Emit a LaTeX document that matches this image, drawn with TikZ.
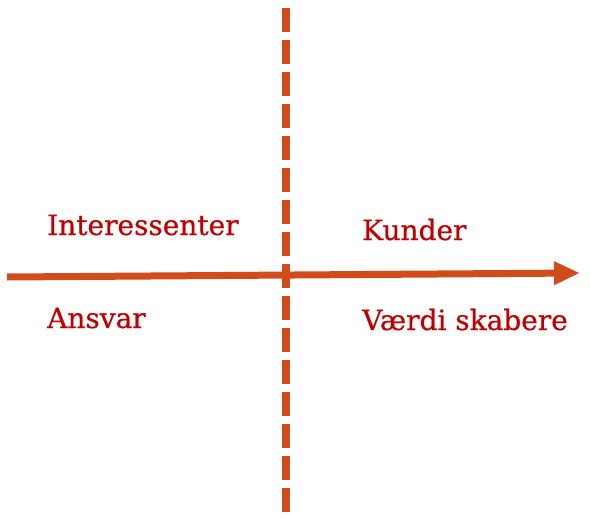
\documentclass[tikz,border=0pt]{standalone}
\usepackage{fontspec}
\setmainfont{DejaVu Serif}
\newfontfamily\slabfont[FakeBold=0.6]{DejaVu Serif}
\usetikzlibrary{arrows.meta}

\definecolor{axisorange}{HTML}{D24B1A}
\definecolor{labelred}{HTML}{C00000}

\tikzset{
    quadlabel/.style={anchor=base west, inner sep=0pt, text=labelred, font=\slabfont\fontsize{28}{34}\selectfont}
}

\begin{document}
\begin{tikzpicture}[x=1pt, y=-1pt]
    \useasboundingbox (0,0) rectangle (590,520);

    % axis
    \coordinate (left) at (7,277);
    \coordinate (right) at (580,273);
    \draw[-{Triangle[length=26pt, width=22pt]}, line width=7pt, axisorange]
        (left) --
        (right);

    % divider
    \coordinate (top) at (286,8);
    \coordinate (bottom) at (286,512);
    \draw[line width=8pt, axisorange, dash pattern=on 24pt off 8pt]
        (top) --
        (bottom);

    % labels
    \node[quadlabel] (interessenter) at (47,235) {Interessenter};
    \node[quadlabel] (ansvar) at (47,328) {Ansvar};
    \node[quadlabel] (kunder) at (362,240) {Kunder};
    \node[quadlabel] (vaerdi) at (362,330) {Værdi skabere};

\end{tikzpicture}
\end{document}
